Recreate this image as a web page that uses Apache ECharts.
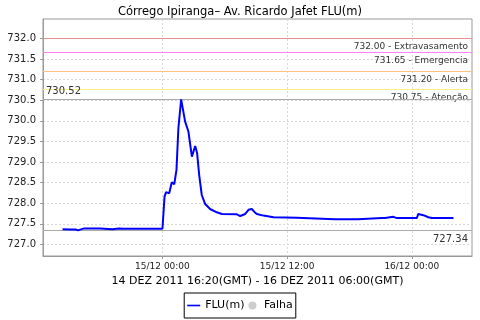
<!DOCTYPE html>
<html><head><meta charset="utf-8">
<script src="https://cdn.jsdelivr.net/npm/echarts@6/dist/echarts.min.js"></script>
<style>html,body{margin:0;padding:0;background:#fff}#c{width:480px;height:320px}</style>
</head><body><div id="c"></div>
<script>
// Times (DD/MM HH:MM) and FLU(m) values
const times = ["14/12 14:23","14/12 15:07","14/12 15:41","14/12 15:53","14/12 16:05","14/12 16:28","14/12 18:00","14/12 18:06","14/12 19:10","14/12 19:21","14/12 19:50","14/12 20:01","14/12 20:13","15/12 00:00","15/12 00:12","15/12 00:21","15/12 00:39","15/12 00:54","15/12 01:08","15/12 01:21","15/12 01:32","15/12 01:48","15/12 02:11","15/12 02:30","15/12 02:50","15/12 03:09","15/12 03:20","15/12 03:32","15/12 03:47","15/12 04:07","15/12 04:35","15/12 05:14","15/12 05:43","15/12 07:10","15/12 07:29","15/12 07:58","15/12 08:17","15/12 08:36","15/12 08:51","15/12 09:05","15/12 09:43","15/12 10:41","15/12 12:56","15/12 13:04","15/12 15:59","15/12 16:37","15/12 18:49","15/12 18:56","15/12 21:07","15/12 21:16","15/12 21:26","15/12 22:14","15/12 22:34","16/12 00:29","16/12 00:38","16/12 01:07","16/12 01:36","16/12 01:56","16/12 04:01"];
const flu = [727.37,727.36,727.36,727.34,727.36,727.39,727.39,727.37,727.37,727.39,727.39,727.36,727.38,727.38,728.16,728.27,728.24,728.51,728.46,728.81,729.82,730.52,729.98,729.74,729.13,729.39,729.22,728.69,728.20,727.98,727.86,727.78,727.74,727.73,727.69,727.74,727.84,727.86,727.79,727.74,727.70,727.66,727.65,727.64,727.62,727.61,727.61,727.64,727.64,727.67,727.64,727.67,727.64,727.64,727.74,727.71,727.66,727.64,727.64];
const thresholdValues = [732.00, 731.65, 731.20, 730.75];
const thresholdNames = ["Extravasamento", "Emergencia", "Alerta", "Atenção"];
const thresholdColors = ["#e89090", "#ff80ff", "#ffc080", "#fff080"];
const maxValue = 730.52;
const minValue = 727.34;
const yTicks = [727.0, 727.5, 728.0, 728.5, 729.0, 729.5, 730.0, 730.5, 731.0, 731.5, 732.0];
const xTickLabels = ["15/12 00:00", "15/12 12:00", "16/12 00:00"];
const axisStart = "14/12 12:30", axisEnd = "16/12 05:48";

function toHours(s) { // hours relative to 15/12 00:00
  const [d, t] = s.split(" ");
  const day = parseInt(d.split("/")[0], 10);
  const [hh, mm] = t.split(":").map(Number);
  return (day - 15) * 24 + hh + mm / 60;
}
const xTicks = xTickLabels.map(toHours);
const xMin = toHours(axisStart), xMax = toHours(axisEnd);
const seriesData = times.map((t, i) => [toHours(t), flu[i]]);
const F = "DejaVu Sans";

// reference lines: [x, value, colour, label text, label side]
const refData = thresholdValues.map((v, i) =>
  [xMin, v, thresholdColors[i], v.toFixed(2) + " - " + thresholdNames[i], "rightBelow"]);
refData.push([xMin, maxValue, "#aaaaaa", maxValue.toFixed(2), "leftAbove"]);
refData.push([xMin, minValue, "#aaaaaa", minValue.toFixed(2), "rightBelow"]);

function renderRef(params, api) {
  const cs = params.coordSys;
  const yRaw = api.coord([api.value(0), api.value(1)])[1];
  const y = Math.round(yRaw - 0.5) + 0.5;
  const d = refData[params.dataIndex];
  const left = d[4] === "leftAbove";
  return { type: "group", children: [
    { type: "line", shape: { x1: cs.x, y1: y, x2: cs.x + cs.width, y2: y },
      style: { stroke: d[2], lineWidth: 1 } },
    { type: "text", style: { text: d[3], x: left ? cs.x + 3 : cs.x + cs.width - 4,
        y: left ? y - 3 : y + 4, fill: "#333", fontFamily: F, fontSize: left || params.dataIndex === 5 ? 10 : 9,
        align: left ? "left" : "right", verticalAlign: left ? "bottom" : "top" } }
  ] };
}

const chart = echarts.init(document.getElementById("c"), null, { renderer: "canvas" });
chart.setOption({
  animation: false,
  title: { text: "Córrego Ipiranga– Av. Ricardo Jafet FLU(m)", left: "center", top: 1,
    textStyle: { fontFamily: F, fontSize: 11.5, fontWeight: "normal", color: "#000" } },
  grid: { left: 43, right: 8, top: 19, bottom: 64, show: true, borderColor: "#999", borderWidth: 1, containLabel: false },
  xAxis: {
    type: "value", min: xMin, max: xMax,
    name: "14 DEZ 2011 16:20(GMT) - 16 DEZ 2011 06:00(GMT)", nameLocation: "middle", nameGap: 14,
    nameTextStyle: { fontFamily: F, fontSize: 11, color: "#000" },
    axisLine: { show: true, onZero: false, lineStyle: { color: "#999" } },
    axisTick: { show: true, length: 3, customValues: xTicks, lineStyle: { color: "#999" } },
    axisLabel: { customValues: xTicks, fontFamily: F, fontSize: 9, color: "#222", margin: 6,
      formatter: v => xTickLabels[xTicks.indexOf(v)] ?? "" },
    splitLine: { show: true, lineStyle: { color: "#d8d8d8", type: [2, 2] } }
  },
  yAxis: {
    type: "value", min: 726.72, max: 732.47,
    axisLine: { show: true, onZero: false, lineStyle: { color: "#999" } },
    axisTick: { show: true, length: 3, customValues: yTicks, lineStyle: { color: "#999" } },
    axisLabel: { customValues: yTicks, fontFamily: F, fontSize: 10, color: "#222", margin: 7,
      formatter: v => v.toFixed(1) },
    splitLine: { show: true, lineStyle: { color: "#d8d8d8", type: [2, 2] } }
  },
  legend: {
    bottom: 2, left: "center", borderColor: "#000", borderWidth: 1, borderRadius: 0,
    padding: [7, 3, 7, 3], itemGap: 4, itemWidth: 13, itemHeight: 8,
    textStyle: { fontFamily: F, fontSize: 11, color: "#000" },
    data: [{ name: "FLU(m)", icon: "path://M0,4 L16,4 L16,6 L0,6 Z", itemStyle: { color: "#0000ff" } },
           { name: "Falha", icon: "circle", itemStyle: { color: "#c0c0c0" } }]
  },
  series: [
    { name: "refs", type: "custom", silent: true, z: 3, data: refData.map(d => [d[0], d[1]]),
      encode: { x: 0, y: 1 }, renderItem: renderRef, clip: false },
    { name: "FLU(m)", type: "line", data: seriesData, symbol: "none", color: "#0000ff", z: 5,
      lineStyle: { color: "#0000ff", width: 2 } },
    { name: "Falha", type: "scatter", data: [], color: "#c0c0c0" }
  ]
});
</script></body></html>
